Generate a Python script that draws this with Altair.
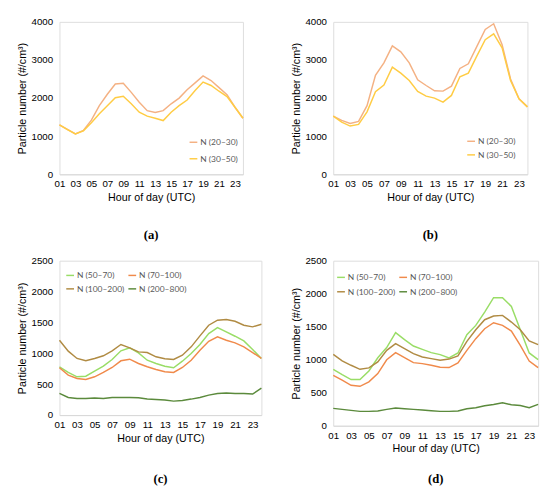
import altair as alt
import pandas as pd

hours = list(range(1, 25))

# Panel (a)
a_n20_30 = [1300, 1180, 1060, 1150, 1420, 1800, 2100, 2370, 2390, 2150, 1890, 1670,
            1620, 1670, 1850, 2000, 2220, 2400, 2580, 2460, 2275, 2090, 1760, 1470]
a_n30_50 = [1300, 1170, 1060, 1140, 1350, 1590, 1800, 2010, 2050, 1850, 1630, 1525,
            1470, 1410, 1630, 1800, 1950, 2200, 2420, 2330, 2180, 2040, 1760, 1470]

# Panel (b)
b_n20_30 = [1528, 1415, 1336, 1389, 1800, 2600, 2925, 3370, 3214, 2925, 2480, 2330,
            2190, 2183, 2314, 2777, 2900, 3350, 3800, 3950, 3400, 2500, 1980, 1770]
b_n30_50 = [1528, 1370, 1266, 1310, 1640, 2165, 2340, 2810, 2655, 2463, 2175, 2052,
            2000, 1895, 2070, 2560, 2655, 3100, 3530, 3685, 3320, 2460, 1980, 1770]

# Panel (c)
c_n50_70 = [782, 690, 620, 630, 711, 792, 900, 1041, 1089, 1008, 889, 836,
            792, 766, 873, 997, 1143, 1320, 1417, 1347, 1277, 1202, 1062, 917]
c_n70_100 = [766, 647, 593, 577, 620, 690, 771, 879, 905, 836, 782, 739,
             701, 690, 771, 889, 1051, 1196, 1267, 1212, 1170, 1105, 1013, 917]
c_n100_200 = [1212, 1035, 917, 879, 917, 960, 1041, 1143, 1089, 1024, 1013, 944,
              911, 900, 970, 1105, 1283, 1455, 1536, 1547, 1519, 1455, 1429, 1471]
c_n200_800 = [351, 286, 270, 270, 275, 270, 286, 286, 286, 280, 259, 253,
              243, 226, 237, 259, 286, 323, 350, 356, 350, 350, 340, 437]

# Panel (d)
d_n50_70 = [855, 775, 700, 700, 830, 1030, 1185, 1410, 1304, 1208, 1158, 1108,
            1077, 1027, 1102, 1379, 1520, 1722, 1940, 1940, 1807, 1455, 1103, 1002]
d_n70_100 = [764, 690, 613, 598, 665, 790, 1000, 1107, 1032, 956, 941, 916,
             886, 881, 951, 1142, 1319, 1470, 1561, 1520, 1435, 1218, 981, 881]
d_n100_200 = [1082, 982, 916, 855, 876, 967, 1142, 1243, 1168, 1092, 1042, 1017,
              991, 1010, 1058, 1278, 1455, 1606, 1662, 1672, 1571, 1455, 1284, 1228]
d_n200_800 = [263, 248, 233, 218, 218, 223, 248, 268, 258, 248, 238, 228,
              218, 218, 223, 258, 273, 303, 323, 348, 318, 308, 273, 323]

x_ticks = [1, 3, 5, 7, 9, 11, 13, 15, 17, 19, 21, 23]

FONT = "Lato"
GREY = "#595959"


def long_df(series):
    rows = []
    for name, vals in series:
        for h, v in zip(hours, vals):
            rows.append({"hour": h, "value": v, "series": name})
    return pd.DataFrame(rows)


def panel(series, colors, ymax, ystep, w, h, caption, legend_kw, cap_offset):
    df = long_df(series)
    names = [s[0] for s in series]
    chart = alt.Chart(df).mark_line(strokeWidth=1.5).encode(
        x=alt.X("hour:Q",
                scale=alt.Scale(domain=[1, 24], nice=False, zero=False),
                axis=alt.Axis(values=x_ticks, title="Hour of day (UTC)",
                              labelExpr="datum.value < 10 ? '0' + datum.value : '' + datum.value",
                              grid=False, ticks=False, domainColor="#D9D9D9",
                              labelOverlap=False, labelFlush=False,
                              labelPadding=5, titlePadding=3,
                              titleFontWeight="normal")),
        y=alt.Y("value:Q",
                scale=alt.Scale(domain=[0, ymax], nice=False),
                axis=alt.Axis(values=list(range(0, ymax + 1, ystep)), format="d",
                              title="Particle number (#/cm³)",
                              grid=False, ticks=False, domain=False,
                              labelOverlap=False, labelFlush=False,
                              labelPadding=7, titlePadding=4,
                              titleFontWeight="normal")),
        color=alt.Color("series:N",
                        scale=alt.Scale(domain=names, range=colors),
                        sort=names,
                        legend=alt.Legend(title=None, orient="none",
                                          symbolType="stroke", symbolSize=64,
                                          symbolStrokeWidth=1.5,
                                          labelFont=FONT, labelFontSize=8.7,
                                          labelColor=GREY, labelOffset=2,
                                          **legend_kw)),
    ).properties(
        width=w, height=h,
        title=alt.TitleParams(caption, orient="bottom", font="Liberation Serif",
                              fontSize=13, fontWeight="bold", color="#000000",
                              offset=cap_offset, anchor="middle"),
    )
    return chart


pa = panel([("N (20–30)", a_n20_30), ("N (30–50)", a_n30_50)],
           ["#F4B183", "#FFCC44"], 4000, 1000, 189, 157, "(a)",
           dict(legendX=133, legendY=119, rowPadding=7), 28)
pb = panel([("N (20–30)", b_n20_30), ("N (30–50)", b_n30_50)],
           ["#F4B183", "#FFCC44"], 4000, 1000, 200, 157, "(b)",
           dict(legendX=137, legendY=118, rowPadding=4), 28)
pc = panel([("N (50–70)", c_n50_70), ("N (70–100)", c_n70_100),
            ("N (100–200)", c_n100_200), ("N (200–800)", c_n200_800)],
           ["#99DD66", "#F08A4B", "#B08B43", "#5B8A3C"], 2500, 500, 208, 159, "(c)",
           dict(legendX=6, legendY=10, columns=2, direction="horizontal",
                columnPadding=1, rowPadding=4), 31)
pd_ = panel([("N (50–70)", d_n50_70), ("N (70–100)", d_n70_100),
             ("N (100–200)", d_n100_200), ("N (200–800)", d_n200_800)],
            ["#99DD66", "#F08A4B", "#B08B43", "#5B8A3C"], 2500, 500, 211, 170, "(d)",
            dict(legendX=3, legendY=12, columns=2, direction="horizontal",
                 columnPadding=1, rowPadding=5), 20)

row1 = alt.hconcat(pa, pb, spacing=44).resolve_scale(color="independent", y="independent", x="independent").resolve_legend(color="independent")
row2 = alt.hconcat(pc, pd_, spacing=25).resolve_scale(color="independent", y="independent", x="independent").resolve_legend(color="independent")

chart = alt.vconcat(row1, row2, spacing=12).resolve_scale(
    color="independent", y="independent", x="independent"
).resolve_legend(color="independent").properties(
    padding={"left": 8, "top": 1, "right": 0, "bottom": 0}
).configure_view(
    stroke="#EBEBEB", strokeWidth=1
).configure_axis(
    labelFont=FONT, titleFont=FONT, labelFontSize=8.5, titleFontSize=9,
    labelColor=GREY, titleColor=GREY, titleFontWeight="normal"
).configure(background="white")

chart.save("out.html", embed_options={"renderer": "svg", "actions": False})
